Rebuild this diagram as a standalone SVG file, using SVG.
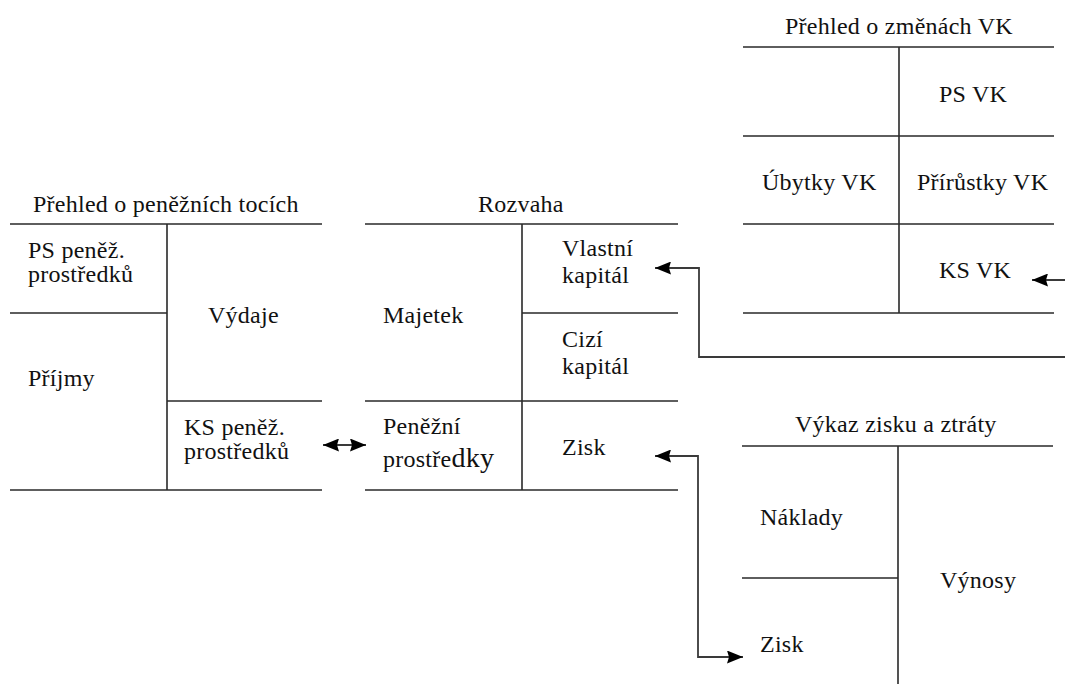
<svg xmlns="http://www.w3.org/2000/svg" width="1065" height="684" viewBox="0 0 1065 684">
<style>
.ln{stroke:#2a2a2a;stroke-width:1.6;fill:none}
.cn{stroke:#3a3a3a;stroke-width:1.8;fill:none}
.t{font-family:'Liberation Serif','Times New Roman',serif;font-size:24px;letter-spacing:0.25px;fill:#111}
</style>
<defs>
<marker id="ah" viewBox="0 0 16 13" refX="16" refY="6.5" markerWidth="16" markerHeight="13" markerUnits="userSpaceOnUse" orient="auto-start-reverse">
<path d="M0,0 L16,6.5 L0,13 L2,6.5 Z" fill="#000"/>
</marker>
</defs>
<rect width="1065" height="684" fill="#fff"/>

<g id="cashflow" class="t">
<text x="33" y="212">Přehled o peněžních tocích</text>
<path class="ln" d="M10,224 H322 M167,224 V490 M10,313 H167 M167,401 H322 M10,490 H322"/>
<text x="28" y="258">PS peněž.</text>
<text x="28" y="282">prostředků</text>
<text x="208" y="323">Výdaje</text>
<text x="28" y="386">Příjmy</text>
<text x="184" y="435">KS peněž.</text>
<text x="184" y="459">prostředků</text>
</g>

<g id="rozvaha" class="t">
<text x="478" y="212">Rozvaha</text>
<path class="ln" d="M365,224 H678 M522,224 V490 M522,313 H678 M365,401 H678 M365,490 H678"/>
<text x="562" y="256">Vlastní</text>
<text x="562" y="283">kapitál</text>
<text x="383" y="323">Majetek</text>
<text x="562" y="347">Cizí</text>
<text x="562" y="374">kapitál</text>
<text x="383" y="434">Peněžní</text>
<text x="383" y="467">prostře<tspan font-size="28">dky</tspan></text>
<text x="562" y="455">Zisk</text>
</g>

<g id="zmeny-vk" class="t">
<text x="785" y="34">Přehled o změnách VK</text>
<path class="ln" d="M743,47 H1054 M899,47 V313 M743,136 H1054 M743,224 H1054 M743,313 H1054"/>
<text x="939" y="102">PS VK</text>
<text x="762" y="190">Úbytky VK</text>
<text x="917" y="190">Přírůstky VK</text>
<text x="939" y="278">KS VK</text>
</g>

<g id="vzz" class="t">
<text x="795" y="432">Výkaz zisku a ztráty</text>
<path class="ln" d="M742,446 H1053 M898,446 V684 M742,578 H898"/>
<text x="760" y="525">Náklady</text>
<text x="940" y="588">Výnosy</text>
<text x="760" y="652">Zisk</text>
</g>

<g id="connectors">
<path class="cn" d="M323,445 H366" marker-start="url(#ah)" marker-end="url(#ah)"/>
<path class="cn" d="M1065,357 H699 V268 H655" marker-end="url(#ah)"/>
<path class="cn" d="M655,456 H698 V657 H743" marker-start="url(#ah)" marker-end="url(#ah)"/>
<path class="cn" d="M1065,280 H1032" marker-end="url(#ah)"/>
</g>
</svg>
